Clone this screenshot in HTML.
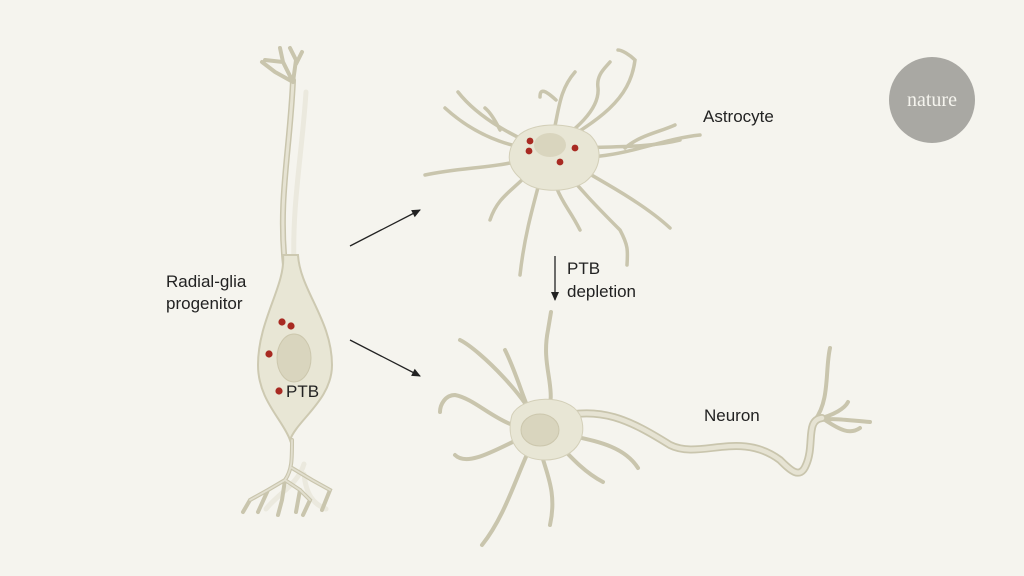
<!DOCTYPE html>
<html><head><meta charset="utf-8"><style>
html,body{margin:0;padding:0;background:#f5f4ee;}
svg{display:block}
text{font-family:"Liberation Sans",sans-serif;fill:#222;}
</style></head><body>
<svg width="1024" height="576" viewBox="0 0 1024 576" xmlns="http://www.w3.org/2000/svg">
<rect width="1024" height="576" fill="#f5f4ee"/>
<defs>
<marker id="ah" markerWidth="10" markerHeight="10" refX="8" refY="5" orient="auto" markerUnits="userSpaceOnUse"><path d="M0,1 L9,5 L0,9 Z" fill="#222"/></marker>
</defs>

<!-- Radial glia -->
<g fill="none" stroke-linecap="round">
<g stroke="#ebe9de" stroke-width="5" transform="translate(8,4)">
<path d="M298,88 C294,150 284,200 286,260"/>
<path d="M296,460 C290,480 270,490 258,505 M296,470 C298,490 305,500 318,505"/>
</g>
<g stroke="#c9c5ad" stroke-width="6">
<path d="M293,80 C290,150 278,200 285,265"/>
</g>
<g stroke="#e6e3d3" stroke-width="3">
<path d="M293,80 C290,150 278,200 285,265"/>
</g>
<g stroke="#c9c5ad" stroke-width="4">
<path d="M293,82 L283,62 L265,60 M283,62 L280,48 M293,82 L296,60 L290,48 M296,64 L302,52 M293,82 L275,72 L262,62"/>
<path d="M292,440 C292,460 292,470 285,480 L268,490 L250,500 L243,512 M268,490 L258,512 M285,480 L282,500 L278,515 M285,480 L300,490 L310,500 L303,515 M292,468 L312,480 L330,490 L322,510 M300,490 L296,512"/>
</g>
<g stroke="#e2dfcf" stroke-width="1.8">
<path d="M292,440 C292,460 292,470 285,480 L268,490 L250,500 M285,480 L300,490 L310,500 M292,468 L312,480 L330,490"/>
</g>
</g>
<path d="M283,255 C286,285 258,320 258,365 C258,400 283,420 290,440 C297,420 332,400 332,365 C332,320 300,290 298,255 Z" fill="#e8e6d5" stroke="#cdc9b1" stroke-width="2"/>
<ellipse cx="294" cy="358" rx="17" ry="24" fill="#d9d5be" stroke="#ccc7ad"/>
<g fill="#a82a22">
<circle cx="282" cy="322" r="3.6"/><circle cx="291" cy="326" r="3.6"/><circle cx="269" cy="354" r="3.6"/><circle cx="279" cy="391" r="3.6"/>
</g>

<!-- Astrocyte -->
<g fill="none" stroke-linecap="round" stroke="#c9c5ad" stroke-width="3.5">
<path d="M548,150 C520,140 480,120 458,92 M500,130 C495,120 490,112 485,108"/>
<path d="M548,150 C560,120 555,95 575,72 M556,100 C545,90 540,88 540,97"/>
<path d="M548,150 C575,130 600,110 598,88 C596,75 605,68 610,62"/>
<path d="M548,150 C600,120 630,100 635,60 C630,55 622,50 618,50"/>
<path d="M548,150 C590,145 640,150 680,140 M625,148 C640,135 660,132 675,125"/>
<path d="M548,150 C600,170 650,140 700,135"/>
<path d="M548,150 C520,150 480,140 445,108"/>
<path d="M548,150 C510,170 470,165 425,175"/>
<path d="M548,150 C520,190 500,190 490,220"/>
<path d="M548,150 C535,200 525,230 520,275"/>
<path d="M548,150 C555,200 565,200 580,230"/>
<path d="M548,150 C580,190 600,210 620,230 C628,245 628,250 627,265"/>
<path d="M548,150 C590,175 640,200 670,228"/>
</g>
<path d="M515,140 C525,122 570,120 590,135 C605,150 600,170 585,182 C565,195 530,192 520,178 C505,165 508,150 515,140 Z" fill="#e8e6d5" stroke="#d3cfb8"/>
<ellipse cx="550" cy="145" rx="16" ry="12" fill="#d9d5be"/>
<g fill="#a82a22">
<circle cx="530" cy="141" r="3.4"/><circle cx="529" cy="151" r="3.4"/><circle cx="575" cy="148" r="3.4"/><circle cx="560" cy="162" r="3.4"/>
</g>

<!-- Neuron -->
<g fill="none" stroke-linecap="round" stroke="#c9c5ad" stroke-width="4">
<path d="M540,430 C530,400 480,350 460,340"/>
<path d="M540,430 C525,410 520,380 505,350"/>
<path d="M545,420 C560,390 540,370 548,330 L551,312"/>
<path d="M540,430 C500,430 480,400 455,395 C445,395 440,405 440,412"/>
<path d="M540,430 C510,440 470,470 455,455"/>
<path d="M540,430 C520,460 510,510 482,545"/>
<path d="M540,430 C535,460 560,480 550,525"/>
<path d="M545,430 C565,450 580,470 603,482"/>
<path d="M550,430 C580,440 620,440 638,468"/>
<path d="M815,420 C830,400 825,370 830,348 M815,420 C835,415 845,408 848,402 M825,420 C840,430 850,435 860,428 M820,420 C835,418 845,420 870,422"/>
</g>
<path d="M555,418 C600,405 630,420 670,445 C700,460 740,430 780,460 C790,470 800,480 806,465 C815,445 805,420 822,418" fill="none" stroke="#c9c5ad" stroke-width="8" stroke-linecap="round"/>
<path d="M555,418 C600,405 630,420 670,445 C700,460 740,430 780,460 C790,470 800,480 806,465 C815,445 805,420 822,418" fill="none" stroke="#e6e3d3" stroke-width="4.5" stroke-linecap="round"/>
<path d="M512,415 C522,395 568,393 580,415 C590,440 572,460 545,460 C518,460 505,440 512,415 Z" fill="#e8e6d5" stroke="#d3cfb8"/>
<ellipse cx="540" cy="430" rx="19" ry="16" fill="#d9d5be" stroke="#ccc7ad"/>

<!-- Arrows -->
<g stroke="#222" stroke-width="1.3">
<line x1="350" y1="246" x2="420" y2="210" marker-end="url(#ah)"/>
<line x1="350" y1="340" x2="420" y2="376" marker-end="url(#ah)"/>
<line x1="555" y1="256" x2="555" y2="300" marker-end="url(#ah)"/>
</g>

<!-- Labels -->
<text x="166" y="287" font-size="17">Radial-glia</text>
<text x="166" y="309" font-size="17">progenitor</text>
<text x="286" y="397" font-size="17">PTB</text>
<text x="703" y="122" font-size="17">Astrocyte</text>
<text x="567" y="274" font-size="17">PTB</text>
<text x="567" y="297" font-size="17">depletion</text>
<text x="704" y="421" font-size="17">Neuron</text>

<circle cx="932" cy="100" r="43" fill="#a9a8a3"/>
<text x="932" y="106" font-size="20" text-anchor="middle" style="font-family:'Liberation Serif',serif;fill:#f5f4ee">nature</text>
</svg>
</body></html>
